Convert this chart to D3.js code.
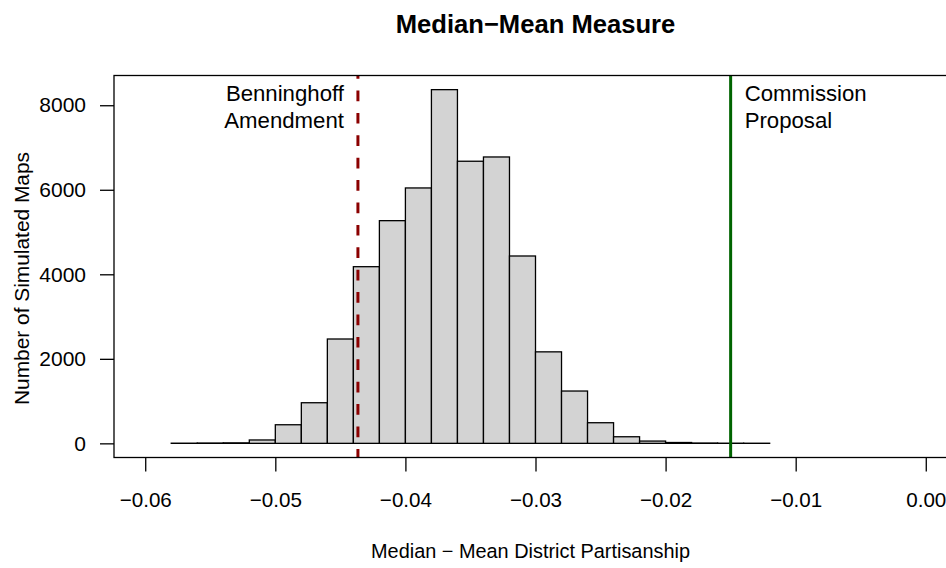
<!DOCTYPE html>
<html>
<head>
<meta charset="utf-8">
<script src="https://cdn.jsdelivr.net/npm/d3@7"></script>
<style>
  html, body { margin: 0; padding: 0; background: #ffffff; }
  svg { display: block; font-family: "Liberation Sans", Arial, Helvetica, sans-serif; }
</style>
</head>
<body>
<svg id="chart" width="946" height="568"></svg>
<script>
// Histogram bins: lower edge of each bin (width 0.002) and the count of simulated maps in it
const binLower = [-0.058, -0.056, -0.054, -0.052, -0.050, -0.048, -0.046, -0.044, -0.042, -0.040,
                  -0.038, -0.036, -0.034, -0.032, -0.030, -0.028, -0.026, -0.024, -0.022, -0.020,
                  -0.018, -0.016, -0.014];
const binWidth = 0.002;
const counts = [4, 8, 12, 80, 440, 961, 2469, 4180, 5269, 6043,
                8369, 6675, 6776, 4433, 2165, 1238, 488, 156, 54, 20,
                8, 4, 3];

// Axis ticks
const xTicks = [-0.06, -0.05, -0.04, -0.03, -0.02, -0.01, 0.00];
const yTicks = [0, 2000, 4000, 6000, 8000];

// Reference plans
const planNames = ["Benninghoff Amendment", "Commission Proposal"];
const planValues = [-0.04365, -0.015];

const titleText = "Median\u2212Mean Measure";
const xLabel = "Median \u2212 Mean District Partisanship";
const yLabel = "Number of Simulated Maps";

const svg = d3.select("#chart");
const plot = { left: 114, top: 75.5, right: 957, bottom: 457.5 };
const FONT = "Liberation Sans, Arial, sans-serif";

// Axis limits with 4% padding on each side
const xlim = [-0.06, 0.0];
const xpad = (xlim[1] - xlim[0]) * 0.04;
const ymax = d3.max(counts);
const ypad = ymax * 0.04;

const x = d3.scaleLinear().domain([xlim[0] - xpad, xlim[1] + xpad]).range([plot.left, plot.right]);
const y = d3.scaleLinear().domain([-ypad, ymax + ypad]).range([plot.bottom, plot.top]);

const clipId = "plotClip";
svg.append("defs").append("clipPath").attr("id", clipId)
  .append("rect")
  .attr("x", plot.left).attr("y", plot.top)
  .attr("width", plot.right - plot.left).attr("height", plot.bottom - plot.top);

// Bars
const bins = binLower.map((lo, i) => ({ x0: lo, x1: lo + binWidth, n: counts[i] }));
svg.append("g")
  .attr("clip-path", `url(#${clipId})`)
  .selectAll("rect")
  .data(bins)
  .join("rect")
  .attr("x", d => x(d.x0))
  .attr("y", d => y(d.n))
  .attr("width", d => x(d.x1) - x(d.x0))
  .attr("height", d => y(0) - y(d.n))
  .attr("fill", "#d3d3d3")
  .attr("stroke", "#000")
  .attr("stroke-width", 1.3);

// Reference lines
const lineStyles = [
  { color: "#8b0000", dash: "10.7 11.7", offset: 7.4 },
  { color: "#006400", dash: null, offset: 0 }
];
const lines = svg.append("g").attr("clip-path", `url(#${clipId})`);
planValues.forEach((v, i) => {
  const ln = lines.append("line")
    .attr("x1", x(v)).attr("x2", x(v))
    .attr("y1", plot.top).attr("y2", plot.bottom)
    .attr("stroke", lineStyles[i].color)
    .attr("stroke-width", 3);
  if (lineStyles[i].dash) {
    ln.attr("stroke-dasharray", lineStyles[i].dash)
      .attr("stroke-dashoffset", lineStyles[i].offset);
  }
});

// Plot frame
svg.append("rect")
  .attr("x", plot.left).attr("y", plot.top)
  .attr("width", plot.right - plot.left).attr("height", plot.bottom - plot.top)
  .attr("fill", "none").attr("stroke", "#000").attr("stroke-width", 1.3);

// X axis
const fmtX = d => (d < 0 ? "\u2212" : "") + Math.abs(d).toFixed(2);
const xAxis = d3.axisBottom(x).tickValues(xTicks).tickSize(14).tickPadding(21).tickFormat(fmtX);
const gx = svg.append("g").attr("transform", `translate(0,${plot.bottom})`).call(xAxis);
gx.select(".domain").remove();
gx.selectAll("line").attr("stroke", "#000").attr("stroke-width", 1.3);
gx.selectAll("text").attr("font-size", 20.6).attr("fill", "#000")
  .attr("font-family", FONT).attr("dy", "0.71em");

// Y axis
const yAxis = d3.axisLeft(y).tickValues(yTicks).tickSize(14).tickPadding(14).tickFormat(d3.format("d"));
const gy = svg.append("g").attr("transform", `translate(${plot.left},0)`).call(yAxis);
gy.select(".domain").remove();
gy.selectAll("line").attr("stroke", "#000").attr("stroke-width", 1.3);
gy.selectAll("text").attr("font-size", 21).attr("fill", "#000")
  .attr("font-family", FONT);

// Title
svg.append("text")
  .attr("x", (plot.left + plot.right) / 2).attr("y", 32.7)
  .attr("text-anchor", "middle")
  .attr("font-size", 25.6).attr("font-weight", "bold")
  .text(titleText);

// Axis labels
svg.append("text")
  .attr("x", (plot.left + plot.right) / 2 - 5).attr("y", 557.5)
  .attr("text-anchor", "middle")
  .attr("font-size", 19.9)
  .text(xLabel);

svg.append("text")
  .attr("transform", `translate(28.5,${(plot.top + plot.bottom) / 2 + 12}) rotate(-90)`)
  .attr("text-anchor", "middle")
  .attr("font-size", 20.9)
  .text(yLabel);

// Plan annotations
const notes = svg.append("g").attr("font-size", 22.2);
const leftNote = notes.append("text").attr("text-anchor", "end");
planNames[0].split(" ").forEach((w, i) => {
  leftNote.append("tspan").attr("x", x(planValues[0]) - 14).attr("y", 100.7 + i * 27.6).text(w);
});
const rightNote = notes.append("text").attr("text-anchor", "start");
planNames[1].split(" ").forEach((w, i) => {
  rightNote.append("tspan").attr("x", x(planValues[1]) + 14).attr("y", 100.7 + i * 27.6).text(w);
});
</script>
</body>
</html>
